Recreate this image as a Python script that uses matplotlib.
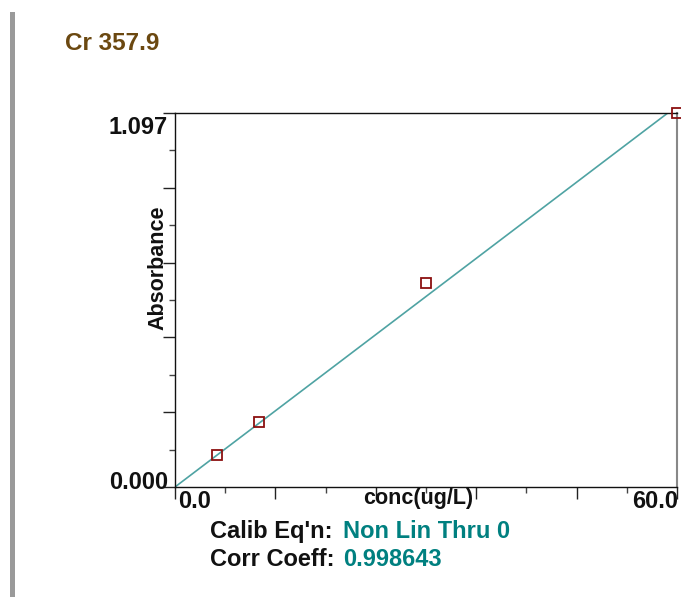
import numpy as np
import matplotlib.pyplot as plt
from matplotlib.patches import Rectangle
from matplotlib.ticker import MultipleLocator

W, H = 681, 597

# calibration standards
conc = [5.0, 10.0, 30.0, 60.0]
absorb = [0.094, 0.191, 0.598, 1.097]

# fitted curve (through zero)
fit_x = [0.0, 60.0]
fit_y = [0.0, 1.1175]

x_max = 60.0
y_max = 1.097
title = 'Cr 357.9'
calib_eq = 'Non Lin Thru 0'
corr_coeff = '0.998643'

FONT = 'Liberation Sans'
TEAL = '#008080'


def fx(x):
    return x / W


def fy(y):
    return 1 - y / H


plt.rcParams['font.family'] = [FONT, 'DejaVu Sans']

fig = plt.figure(figsize=(W / 100, H / 100), dpi=100)
ax = fig.add_axes([fx(175), fy(487), fx(677) - fx(175), fy(113) - fy(487)])

ax.plot(fit_x, fit_y, color='#4fa3a3', lw=1.2, zorder=2)
ax.plot(conc, absorb, ls='none', marker='s', ms=7.8, mfc='none',
        mec='#8b1010', mew=1.3, clip_on=False, zorder=3)

ax.set_xlim(0, x_max)
ax.set_ylim(0, y_max)

ax.xaxis.set_major_locator(MultipleLocator(x_max / 5))
ax.xaxis.set_minor_locator(MultipleLocator(x_max / 10))
ax.yaxis.set_major_locator(MultipleLocator(y_max / 5))
ax.yaxis.set_minor_locator(MultipleLocator(y_max / 10))
ax.tick_params(which='major', length=8.6, width=1, color='#222222',
               labelbottom=False, labelleft=False)
ax.tick_params(which='minor', length=4.3, width=1, color='#444444')

for s in ['left', 'bottom', 'top']:
    ax.spines[s].set_color('#111111')
    ax.spines[s].set_linewidth(1)
ax.spines['right'].set_color('#888888')
ax.spines['right'].set_linewidth(1.5)

lab = dict(fontsize=17, fontweight='bold', color='#111111')
fig.text(fx(168), fy(116), '1.097', ha='right', va='top', **lab)
fig.text(fx(168), fy(489), '0.000', ha='right', va='baseline', **lab)
fig.text(fx(178), fy(490), '0.0', ha='left', va='top', **lab)
fig.text(fx(678), fy(490), '60.0', ha='right', va='top', **lab)

fig.text(fx(418), fy(488), 'conc(ug/L)', ha='center', va='top',
         fontsize=15.5, fontweight='bold', color='#111111')
fig.text(fx(158), fy(268), 'Absorbance', ha='center', va='center',
         rotation=90, fontsize=15.5, fontweight='bold', color='#111111')

fig.text(fx(65), fy(50), title, ha='left', va='baseline',
         fontsize=17.5, fontweight='bold', color='#6b4810')

fig.text(fx(210), fy(538), "Calib Eq'n:", ha='left', va='baseline', **lab)
fig.text(fx(343), fy(538), calib_eq, ha='left', va='baseline',
         fontsize=17, fontweight='bold', color=TEAL)
fig.text(fx(210), fy(566), 'Corr Coeff:', ha='left', va='baseline', **lab)
fig.text(fx(343), fy(566), corr_coeff, ha='left', va='baseline',
         fontsize=17, fontweight='bold', color=TEAL)

# grey bar on the left edge
fig.patches.append(Rectangle((fx(10), 0), fx(5), fy(12), transform=fig.transFigure,
                             facecolor='#9a9a9a', edgecolor='none'))

fig.savefig('out.png', dpi=100)
